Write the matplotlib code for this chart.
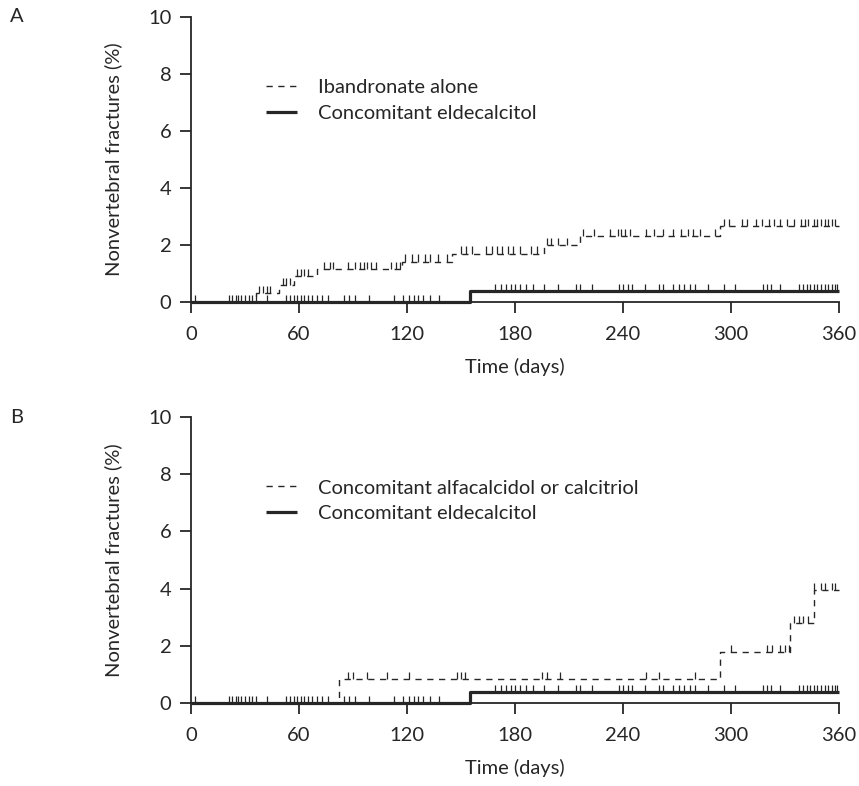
import numpy as np
import matplotlib
matplotlib.use("Agg")
import matplotlib.pyplot as plt

plt.rcParams['font.family'] = ['Lato', 'DejaVu Sans']

INK = '#262626'
FS = 14.5

# Kaplan-Meier steps: event days and cumulative incidence (%)
ibandronate_days = [0, 36, 49, 57, 70, 117, 145, 196, 216, 294]
ibandronate_pct = [0, 0.30, 0.60, 0.90, 1.15, 1.42, 1.70, 2.00, 2.32, 2.65]
ibandronate_censored = [38, 40, 42, 44, 51, 53, 55, 59, 61, 63, 65, 74, 77, 79, 87, 91, 94, 96,
                        98, 100, 103, 111, 114, 116, 119, 123, 126, 130, 133, 137, 142, 150,
                        153, 156, 164, 167, 170, 173, 176, 179, 183, 189, 192, 198, 200, 204,
                        209, 218, 224, 233, 237, 239, 241, 244, 253, 257, 262, 268, 272, 276,
                        279, 283, 291, 296, 299, 306, 309, 314, 317, 321, 324, 327, 331, 335,
                        339, 341, 343, 346, 348, 350, 352, 354, 356, 358]

eldecalcitol_days = [0, 155]
eldecalcitol_pct = [0, 0.38]
eldecalcitol_censored = [2, 21, 23, 25, 26, 28, 30, 32, 34, 36, 42, 53, 55, 57, 59, 61, 63, 65,
                         67, 70, 73, 76, 85, 88, 91, 99, 113, 118, 121, 124, 126, 129, 133, 138,
                         169, 172, 175, 178, 180, 183, 186, 190, 196, 204, 214, 216, 223, 238,
                         240, 243, 245, 252, 260, 262, 268, 271, 274, 277, 280, 287, 296, 302,
                         318, 320, 322, 327, 338, 340, 342, 344, 346, 348, 350, 352, 354, 356,
                         358, 359]

alfacalcidol_days = [0, 82, 294, 333, 346]
alfacalcidol_pct = [0, 0.84, 1.79, 2.80, 3.95]
alfacalcidol_censored = [87, 90, 98, 109, 121, 148, 150, 152, 195, 198, 205, 253, 260, 280,
                         300, 320, 323, 327, 330, 332, 335, 338, 340, 343, 346, 350, 352, 356, 358]

x_ticks = [0, 60, 120, 180, 240, 300, 360]
y_ticks = [0, 2, 4, 6, 8, 10]
END_DAY = 360


def km_curve(ax, days, pct, censored, style, lw, tick_lw):
    xs = list(days) + [END_DAY]
    ys = list(pct) + [pct[-1]]
    line, = ax.step(xs, ys, where='post', color=INK, linewidth=lw, linestyle=style,
                    solid_capstyle='butt', zorder=3 if style == '-' else 2, clip_on=False)
    if style != '-':
        line.set_dashes((4.5, 4))
    # censor marks sit on top of the curve
    idx = np.searchsorted(days, censored, side='right') - 1
    lev = np.asarray(pct)[idx]
    ax.vlines(censored, lev, lev + 0.25, color=INK, linewidth=tick_lw, zorder=3, clip_on=False)
    return line


def style_axes(ax):
    ax.set_xlim(0, 360)
    ax.set_ylim(0, 10)
    ax.set_xticks(x_ticks)
    ax.set_yticks(y_ticks)
    for side in ['top', 'right']:
        ax.spines[side].set_visible(False)
    for side in ['left', 'bottom']:
        ax.spines[side].set_color(INK)
        ax.spines[side].set_linewidth(1.3)
    ax.tick_params(axis='both', direction='out', length=8, width=1.3, color=INK,
                   labelcolor=INK, labelsize=FS)
    ax.tick_params(axis='x', pad=9)
    ax.tick_params(axis='y', pad=6)
    ax.set_xlabel('Time (days)', fontsize=FS, color=INK, labelpad=11)
    ax.set_ylabel('Nonvertebral fractures (%)', fontsize=FS, color=INK, labelpad=19)


def add_legend(ax, handles, labels):
    ax.legend(handles, labels, loc='upper left', bbox_to_anchor=(0.088, 0.845),
              frameon=False, fontsize=FS, handlelength=1.55, handletextpad=1.0,
              labelspacing=0.42, labelcolor=INK)


fig = plt.figure(figsize=(8.59, 7.86), dpi=100)
ax_a = fig.add_axes([0.2224, 0.6158, 0.7544, 0.3626])
ax_b = fig.add_axes([0.2224, 0.1056, 0.7544, 0.3639])

# Panel A
d_a = km_curve(ax_a, ibandronate_days, ibandronate_pct, ibandronate_censored, '--', 1.0, 0.9)
s_a = km_curve(ax_a, eldecalcitol_days, eldecalcitol_pct, eldecalcitol_censored, '-', 2.3, 0.9)
style_axes(ax_a)
add_legend(ax_a, [d_a, s_a], ['Ibandronate alone', 'Concomitant eldecalcitol'])

# Panel B
d_b = km_curve(ax_b, alfacalcidol_days, alfacalcidol_pct, alfacalcidol_censored, '--', 1.0, 0.9)
s_b = km_curve(ax_b, eldecalcitol_days, eldecalcitol_pct, eldecalcitol_censored, '-', 2.3, 0.9)
style_axes(ax_b)
add_legend(ax_b, [d_b, s_b], ['Concomitant alfacalcidol or calcitriol', 'Concomitant eldecalcitol'])

fig.text(17 / 859, 1 - 17 / 786, 'A', fontsize=FS, color=INK, ha='center', va='center')
fig.text(17 / 859, 1 - 417 / 786, 'B', fontsize=FS, color=INK, ha='center', va='center')

fig.savefig('out.png', dpi=100)
